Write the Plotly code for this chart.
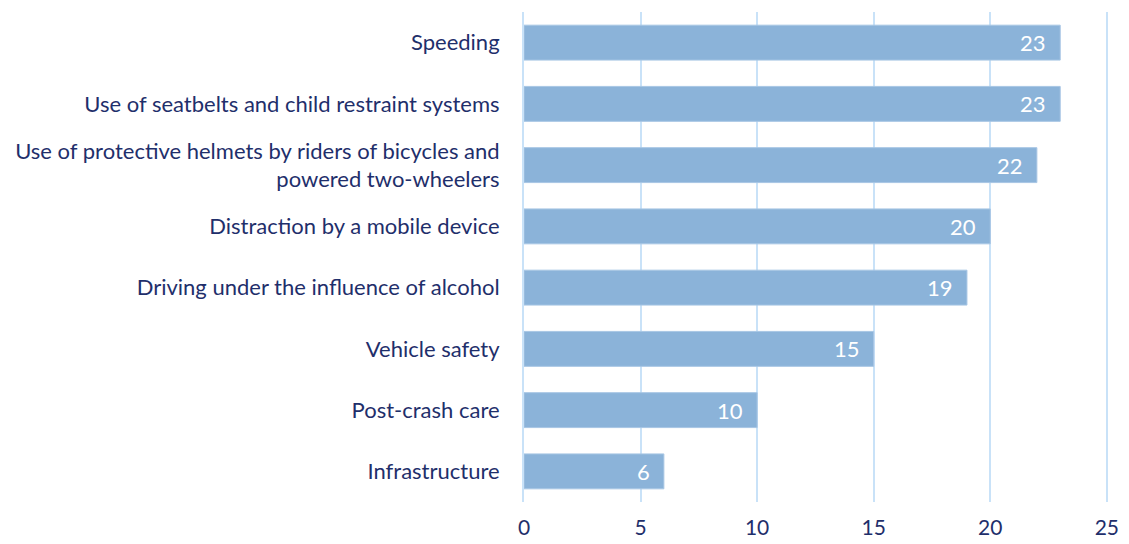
import plotly.graph_objects as go

categories = [
    "Speeding",
    "Use of seatbelts and child restraint systems",
    "Use of protective helmets by riders of bicycles and<br>powered two-wheelers",
    "Distraction by a mobile device",
    "Driving under the influence of alcohol",
    "Vehicle safety",
    "Post-crash care",
    "Infrastructure",
]
values = [23, 23, 22, 20, 19, 15, 10, 6]
x_ticks = [0, 5, 10, 15, 20, 25]

navy = "#1F2F6B"
font_family = "Lato, 'Open Sans', sans-serif"
fsize = 22

fig = go.Figure(
    go.Bar(
        x=values,
        y=categories,
        orientation="h",
        marker=dict(color="#8BB3D9", line=dict(color="#A8C6E4", width=1)),
        hoverinfo="x+y",
    )
)

# value labels sit just inside the end of each bar
for cat, v in zip(categories, values):
    fig.add_annotation(
        x=v, y=cat, text=str(v), showarrow=False,
        xanchor="right", xshift=-12,
        font=dict(color="white", size=fsize, family=font_family),
    )

fig.update_layout(
    width=1129,
    height=544,
    margin=dict(l=524, r=21, t=12, b=42),
    paper_bgcolor="white",
    plot_bgcolor="white",
    bargap=0.43,
    showlegend=False,
    font=dict(family=font_family, color=navy, size=fsize),
)
fig.update_xaxes(
    range=[0, 25.05],
    tickvals=x_ticks,
    showgrid=True,
    gridcolor="#C9E2F8",
    gridwidth=2,
    zeroline=False,
    showline=False,
    ticks="",
    tickfont=dict(size=21, color=navy),
    ticklabelstandoff=11,
    automargin=False,
)
fig.update_yaxes(
    autorange="reversed",
    showgrid=False,
    showline=True,
    linecolor="#C9E2F8",
    linewidth=2,
    ticks="",
    ticklabelstandoff=18,
    tickfont=dict(size=fsize, color=navy),
    automargin=False,
)

fig.write_html("out.html")
